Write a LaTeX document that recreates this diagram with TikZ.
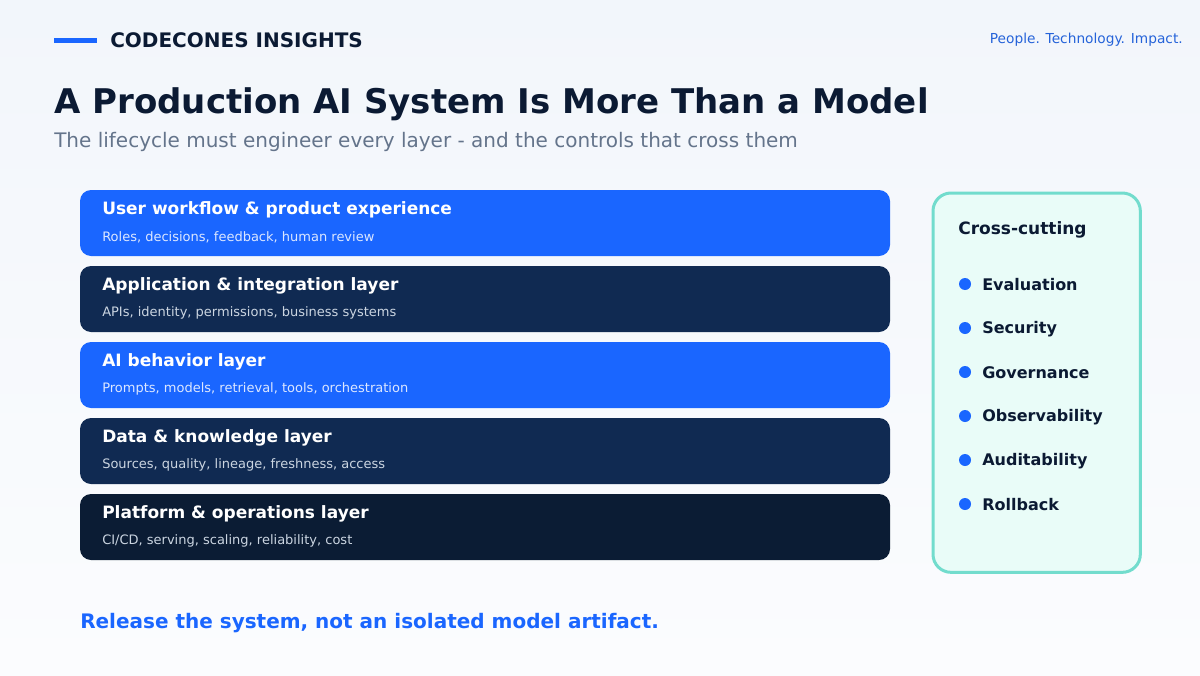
\documentclass[tikz,border=0pt]{standalone}
\usepackage{fontspec}
\setmainfont{DejaVu Sans}
\usepackage{tikz}
\usetikzlibrary{positioning}

\definecolor{brandblue}{HTML}{1A66FF}
\definecolor{navy}{HTML}{102A52}
\definecolor{deepnavy}{HTML}{0B1C34}
\definecolor{ink}{HTML}{0B1A33}
\definecolor{slate}{HTML}{64748B}
\definecolor{paleblue}{HTML}{DCE7FF}
\definecolor{palegray}{HTML}{CBD5E1}
\definecolor{mint}{HTML}{E9FCF8}
\definecolor{teal}{HTML}{72DCCD}
\definecolor{tagblue}{HTML}{2563D9}
\definecolor{bgtop}{HTML}{F2F6FB}
\definecolor{bgbottom}{HTML}{FBFCFE}

\begin{document}
\begin{tikzpicture}[x=0.75pt, y=-0.75pt, node distance=7.5pt]
    \tikzset{
      layer/.style={rectangle, rounded corners=8.25pt, inner sep=0pt, outer sep=0pt,
        minimum width=607.5pt, minimum height=49.5pt},
      ltitle/.style={anchor=west, inner sep=0pt, text=white, font=\bfseries\fontsize{12.75}{15}\selectfont},
      lsub/.style={anchor=west, inner sep=0pt, font=\fontsize{9.75}{12}\selectfont},
      item/.style={anchor=west, inner sep=0pt, text=ink, font=\bfseries\fontsize{12}{14}\selectfont},
      dot/.style={circle, fill=brandblue, inner sep=0pt, minimum size=9pt}
    }
    % background
    \shade[top color=bgtop, bottom color=bgbottom] (0,0) rectangle (1200,675);
    \useasboundingbox (0,0) rectangle (1200,675);

    % header
    \coordinate (barL) at (54,40.5);
    \coordinate (barR) at (97,40.5);
    \draw[brandblue, line width=3.75pt] (barL) -- (barR);
    \node[anchor=west, inner sep=0pt, text=ink, font=\bfseries\fontsize{15}{18}\selectfont] (brand) at (110,40) {CODECONES INSIGHTS};
    \node[anchor=east, inner sep=0pt, text=tagblue, font=\fontsize{10.3}{13}\selectfont] (tagline) at (1183,39.5) {People. Technology. Impact.};
    \node[anchor=west, inner sep=0pt, text=ink, font=\bfseries\fontsize{25.5}{30}\selectfont] (title) at (54,104) {A Production AI System Is More Than a Model};
    \node[anchor=west, inner sep=0pt, text=slate, font=\fontsize{15}{18}\selectfont] (subtitle) at (54,142) {The lifecycle must engineer every layer - and the controls that cross them};

    % layer stack
    \node[layer, fill=brandblue, anchor=north west] (user) at (80,190) {};
    \node[layer, fill=navy, below=of user] (app) {};
    \node[layer, fill=brandblue, below=of app] (ai) {};
    \node[layer, fill=navy, below=of ai] (data) {};
    \node[layer, fill=deepnavy, below=of data] (platform) {};

    \node[ltitle] (userT) at ([xshift=16.5pt, yshift=9.75pt]user.west) {User workflow \& product experience};
    \node[lsub, text=paleblue] (userS) at ([xshift=16.5pt, yshift=-10.5pt]user.west) {Roles, decisions, feedback, human review};
    \node[ltitle] (appT) at ([xshift=16.5pt, yshift=9.75pt]app.west) {Application \& integration layer};
    \node[lsub, text=palegray] (appS) at ([xshift=16.5pt, yshift=-10.5pt]app.west) {APIs, identity, permissions, business systems};
    \node[ltitle] (aiT) at ([xshift=16.5pt, yshift=9.75pt]ai.west) {AI behavior layer};
    \node[lsub, text=paleblue] (aiS) at ([xshift=16.5pt, yshift=-10.5pt]ai.west) {Prompts, models, retrieval, tools, orchestration};
    \node[ltitle] (dataT) at ([xshift=16.5pt, yshift=9.75pt]data.west) {Data \& knowledge layer};
    \node[lsub, text=palegray] (dataS) at ([xshift=16.5pt, yshift=-10.5pt]data.west) {Sources, quality, lineage, freshness, access};
    \node[ltitle] (platformT) at ([xshift=16.5pt, yshift=9.75pt]platform.west) {Platform \& operations layer};
    \node[lsub, text=palegray] (platformS) at ([xshift=16.5pt, yshift=-10.5pt]platform.west) {CI/CD, serving, scaling, reliability, cost};

    % cross-cutting panel
    \node[rectangle, rounded corners=13.5pt, draw=teal, fill=mint, line width=2.25pt, anchor=north west,
      minimum width=155.5pt, minimum height=284.5pt, inner sep=0pt] (panel) at (931.5,191.5) {};
    \node[anchor=west, inner sep=0pt, text=ink, font=\bfseries\fontsize{12.75}{15}\selectfont] (cross) at (958,229.5) {Cross-cutting};
    \node[dot] (d1) at (965,284) {};
    \node[item] (eval) at (982,285) {Evaluation};
    \node[dot] (d2) at (965,328) {};
    \node[item] (sec) at (982,329) {Security};
    \node[dot] (d3) at (965,372) {};
    \node[item] (gov) at (982,373) {Governance};
    \node[dot] (d4) at (965,416) {};
    \node[item] (obs) at (982,417) {Observability};
    \node[dot] (d5) at (965,460) {};
    \node[item] (aud) at (982,461) {Auditability};
    \node[dot] (d6) at (965,504) {};
    \node[item] (roll) at (982,505) {Rollback};

    % footer
    \node[anchor=west, inner sep=0pt, text=brandblue, font=\bfseries\fontsize{15}{18}\selectfont] (footer) at (80,623) {Release the system, not an isolated model artifact.};
\end{tikzpicture}
\end{document}
